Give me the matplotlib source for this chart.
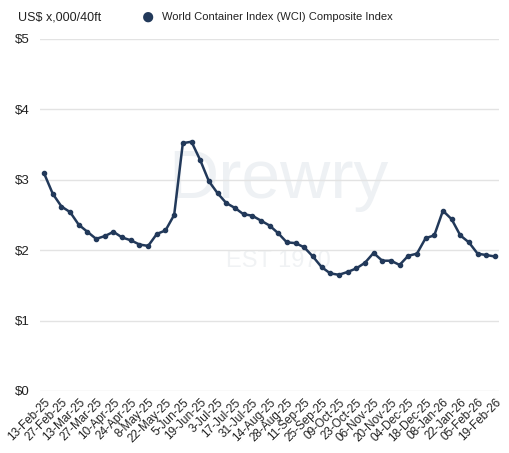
import matplotlib.pyplot as plt

dates = ['13-Feb-25', '20-Feb-25', '27-Feb-25', '6-Mar-25', '13-Mar-25', '20-Mar-25',
         '27-Mar-25', '3-Apr-25', '10-Apr-25', '17-Apr-25', '24-Apr-25', '1-May-25',
         '8-May-25', '15-May-25', '22-May-25', '29-May-25', '5-Jun-25', '12-Jun-25',
         '19-Jun-25', '26-Jun-25', '3-Jul-25', '10-Jul-25', '17-Jul-25', '24-Jul-25',
         '31-Jul-25', '7-Aug-25', '14-Aug-25', '21-Aug-25', '28-Aug-25', '4-Sep-25',
         '11-Sep-25', '18-Sep-25', '25-Sep-25', '02-Oct-25', '09-Oct-25', '16-Oct-25',
         '23-Oct-25', '30-Oct-25', '06-Nov-25', '13-Nov-25', '20-Nov-25', '27-Nov-25',
         '04-Dec-25', '11-Dec-25', '18-Dec-25', '25-Dec-25', '08-Jan-26', '15-Jan-26',
         '22-Jan-26', '29-Jan-26', '05-Feb-26', '12-Feb-26', '19-Feb-26']

wci = [3.09, 2.80, 2.62, 2.54, 2.36, 2.26, 2.16, 2.20, 2.26, 2.18, 2.14, 2.08,
       2.06, 2.23, 2.28, 2.50, 3.52, 3.54, 3.28, 2.98, 2.81, 2.67, 2.60, 2.51,
       2.49, 2.42, 2.35, 2.24, 2.11, 2.10, 2.04, 1.91, 1.76, 1.67, 1.65, 1.69,
       1.74, 1.82, 1.96, 1.85, 1.85, 1.79, 1.92, 1.95, 2.17, 2.21, 2.56, 2.44,
       2.21, 2.11, 1.95, 1.93, 1.91]

yticks = [0, 1, 2, 3, 4, 5]
navy = '#22395a'

plt.rcParams['font.family'] = ['Liberation Sans', 'DejaVu Sans']

fig = plt.figure(figsize=(5.1, 4.53), dpi=100)
ax = fig.add_axes([0.078, 0.137, 0.901, 0.777])

# faint watermark
ax.text(0.52, 0.60, 'Drewry', transform=ax.transAxes, fontsize=50, color='#eef1f4',
        ha='center', va='center', zorder=0)
ax.text(0.52, 0.37, 'EST 1970', transform=ax.transAxes, fontsize=17, color='#f0f2f4',
        ha='center', va='center', zorder=0)

x = list(range(len(dates)))
ax.plot(x, wci, color=navy, lw=1.8, marker='o', ms=3, solid_joinstyle='round', zorder=3)

ax.set_xlim(-0.5, len(dates) - 0.5)
ax.set_ylim(0, 5)
ax.set_yticks(yticks)
ax.set_yticklabels(['$' + str(v) for v in yticks], fontsize=9.5, color='#222222')
ax.set_xticks(x[::2])
ax.set_xticklabels(dates[::2], rotation=45, ha='right', rotation_mode='anchor',
                   fontsize=8.5, color='#222222')
ax.tick_params(axis='both', length=0, pad=4)
ax.tick_params(axis='y', pad=7)
ax.grid(axis='y', color='#e3e3e3', lw=1)
ax.set_axisbelow(True)
for s in ax.spines.values():
    s.set_visible(False)

fig.text(0.035, 0.962, 'US$ x,000/40ft', fontsize=9, color='#222222', va='center')
fig.text(0.29, 0.960, '\u25cf', fontsize=17, color=navy, va='center', ha='center')
fig.text(0.318, 0.962, 'World Container Index (WCI) Composite Index', fontsize=8,
         color='#222222', va='center')

fig.savefig('out.png', dpi=100)
